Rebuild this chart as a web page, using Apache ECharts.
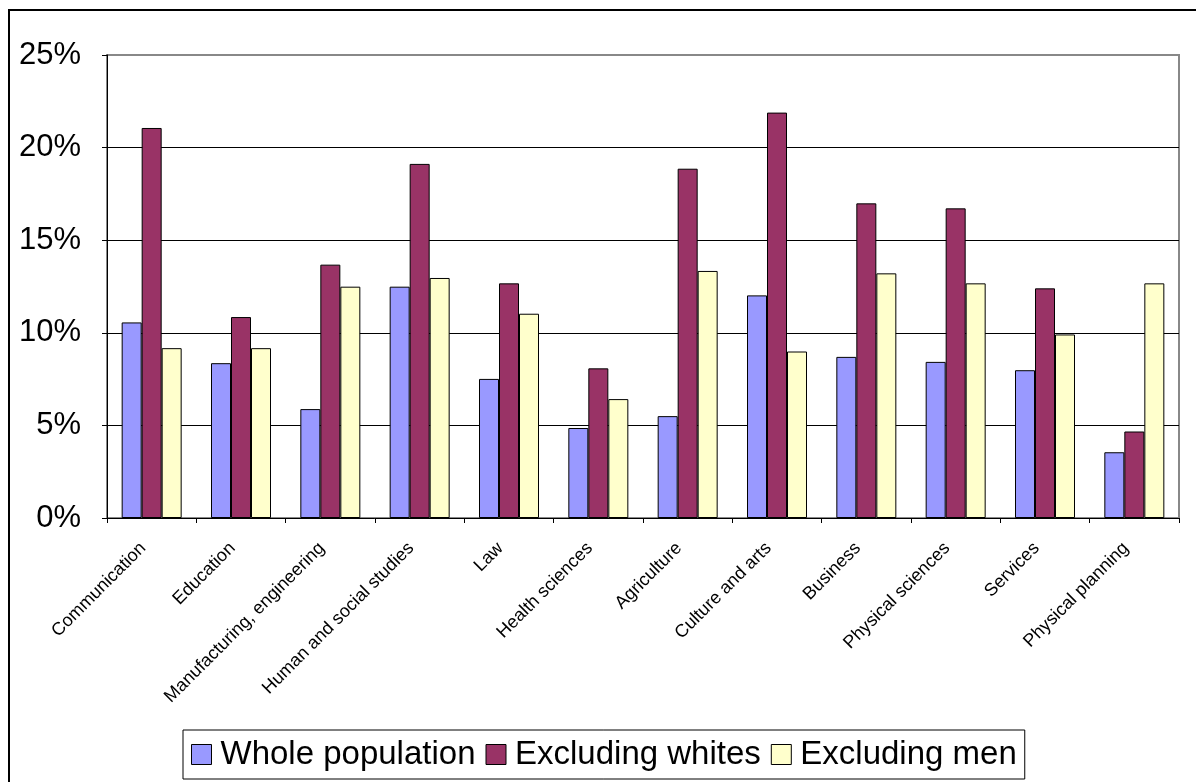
<!DOCTYPE html>
<html>
<head>
<meta charset="utf-8">
<script src="https://cdn.jsdelivr.net/npm/echarts@6/dist/echarts.min.js"></script>
<style>
html, body { margin: 0; padding: 0; background: #fff; }
#chart { width: 1196px; height: 782px; }
</style>
</head>
<body>
<div id="chart"></div>
<script>
var categories = ['Communication', 'Education', 'Manufacturing, engineering', 'Human and social studies',
  'Law', 'Health sciences', 'Agriculture', 'Culture and arts', 'Business', 'Physical sciences',
  'Services', 'Physical planning']
var wholePopulation = [10.56, 8.36, 5.88, 12.49, 7.51, 4.86, 5.5, 12.02, 8.7, 8.43, 7.98, 3.55]
var excludingWhites = [21.06, 10.85, 13.68, 19.12, 12.67, 8.08, 18.86, 21.89, 16.99, 16.72, 12.4, 4.67]
var excludingMen = [9.17, 9.17, 12.49, 12.96, 11.03, 6.42, 13.34, 8.99, 13.21, 12.67, 9.91, 12.67]
var yTicks = [0, 5, 10, 15, 20, 25]

var font = '"Liberation Sans", Arial, sans-serif'

function barSeries (name, data, color) {
  return {
    name: name,
    type: 'bar',
    data: data,
    barWidth: 20,
    barGap: '0%',
    itemStyle: {
      color: color,
      borderColor: '#000',
      borderWidth: 1
    }
  }
}

var chart = echarts.init(document.getElementById('chart'))
var option = {
  animation: false,
  backgroundColor: '#fff',
  textStyle: { fontFamily: font },
  graphic: [{
    type: 'rect',
    silent: true,
    shape: { x: 9, y: 10, width: 1400, height: 1000 },
    style: { fill: null, stroke: '#000', lineWidth: 2 }
  }],
  grid: {
    left: 107,
    top: 55,
    right: 17,
    bottom: 264,
    show: true,
    borderColor: '#888',
    borderWidth: 2
  },
  legend: {
    left: 183,
    top: 730,
    padding: [8, 8],
    itemGap: 10,
    itemWidth: 20,
    itemHeight: 20,
    icon: 'rect',
    borderColor: '#000',
    borderWidth: 1,
    itemStyle: { borderColor: '#000', borderWidth: 1 },
    textStyle: { fontSize: 33, color: '#000', fontFamily: font, padding: [0, 0, 0, 4] }
  },
  xAxis: {
    type: 'category',
    data: categories,
    axisLine: { lineStyle: { color: '#000', width: 1 } },
    axisTick: { show: true, length: 5, lineStyle: { color: '#000' } },
    axisLabel: {
      rotate: 45,
      margin: 19,
      padding: [0, 12, 0, 0],
      interval: 0,
      fontSize: 18,
      color: '#000',
      fontFamily: font
    }
  },
  yAxis: {
    type: 'value',
    min: yTicks[0],
    max: yTicks[yTicks.length - 1],
    interval: 5,
    axisLine: { show: true, lineStyle: { color: '#000', width: 1 } },
    axisTick: { show: true, length: 5, lineStyle: { color: '#000' } },
    axisLabel: {
      margin: 26,
      fontSize: 31,
      color: '#000',
      fontFamily: font,
      formatter: '{value}%'
    },
    splitLine: {
      show: true,
      showMinLine: false,
      showMaxLine: false,
      lineStyle: { color: '#000', width: 1 }
    }
  },
  series: [
    barSeries('Whole population', wholePopulation, '#9999FF'),
    barSeries('Excluding whites', excludingWhites, '#993366'),
    barSeries('Excluding men', excludingMen, '#FFFFCC')
  ]
}
chart.setOption(option)
</script>
</body>
</html>
